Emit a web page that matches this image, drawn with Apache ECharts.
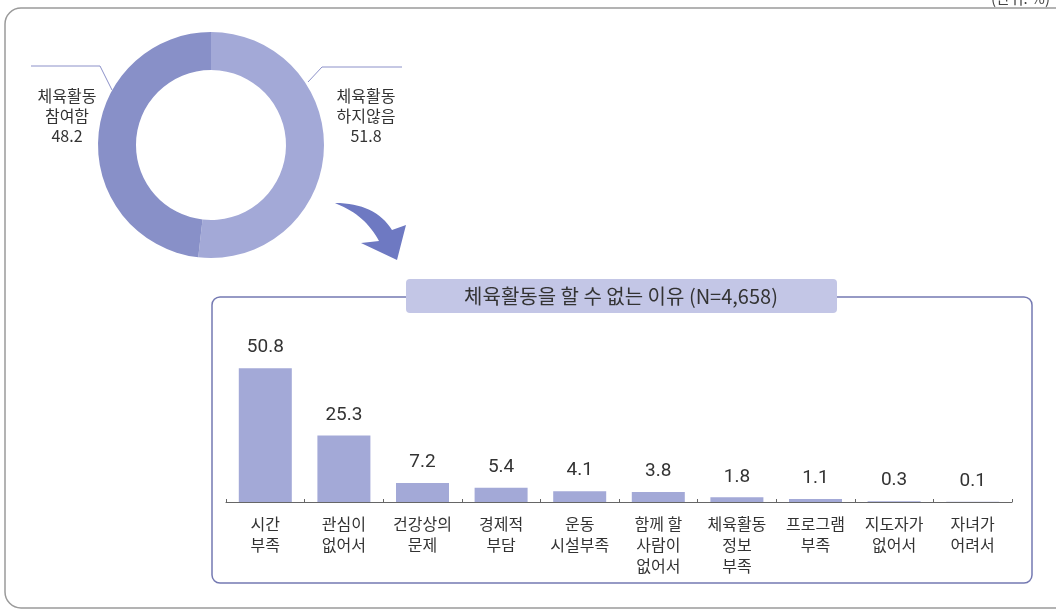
<!DOCTYPE html>
<html><head><meta charset="utf-8">
<script src="https://cdn.jsdelivr.net/npm/echarts@6/dist/echarts.min.js"></script>
<style>html,body{margin:0;padding:0;background:#fff}#c{width:1056px;height:610px}</style>
</head><body><div id="c"></div>
<script>
const pieNames = ['체육활동\n하지않음', '체육활동\n참여함'];
const pieValues = [51.8, 48.2];
const categories = ['시간\n부족', '관심이\n없어서', '건강상의\n문제', '경제적\n부담', '운동\n시설부족', '함께 할\n사람이\n없어서', '체육활동\n정보\n부족', '프로그램\n부족', '지도자가\n없어서', '자녀가\n어려서'];
const barValues = [50.8, 25.3, 7.2, 5.4, 4.1, 3.8, 1.8, 1.1, 0.3, 0.1];
const titleText = '체육활동을 할 수 없는 이유 (N=4,658)';
const unitText = '(단위: %)';

const KR = '"Noto Sans CJK KR", sans-serif';
const NUM = 'Roboto, "Noto Sans CJK KR", sans-serif';

function quad(p0, c, p1, n) {
  const pts = [];
  for (let i = 0; i <= n; i++) {
    const t = i / n;
    pts.push([(1 - t) * (1 - t) * p0[0] + 2 * (1 - t) * t * c[0] + t * t * p1[0],
              (1 - t) * (1 - t) * p0[1] + 2 * (1 - t) * t * c[1] + t * t * p1[1]]);
  }
  return pts;
}
const arrowPts = [].concat(
  quad([335, 203], [375, 203], [392, 230], 16),
  [[406, 225], [397, 260], [361, 243]],
  quad([379, 241], [365, 215], [337, 204], 16)
);

const chart = echarts.init(document.getElementById('c'), null, {renderer: 'canvas'});
chart.setOption({
  animation: false,
  backgroundColor: '#fff',
  graphic: [
    {type: 'rect', shape: {x: 5, y: 8, width: 1070, height: 600, r: 16}, style: {fill: 'none', stroke: '#9a9a9a', lineWidth: 1.5}, z: 0},
    {type: 'text', x: 1050, y: -9, style: {text: unitText, font: '15px ' + KR, fill: '#444', align: 'right'}},
    {type: 'rect', shape: {x: 212, y: 297, width: 820, height: 286, r: 8}, style: {fill: 'none', stroke: '#7479b2', lineWidth: 1.5}, z: 1},
    {type: 'rect', shape: {x: 406, y: 279, width: 431, height: 34, r: 4}, style: {fill: '#c3c6e6'}, z: 2},
    {type: 'text', x: 621, y: 296, style: {text: titleText, font: '20px ' + KR, fill: '#333', align: 'center', verticalAlign: 'middle'}, z: 3},
    {type: 'polygon', shape: {points: arrowPts}, style: {fill: '#6e79c2'}, z: 2}
  ],
  grid: {left: 226, right: 44, top: 344, bottom: 108, containLabel: false},
  xAxis: {
    type: 'category', data: categories,
    axisLine: {lineStyle: {color: '#666', width: 1}},
    axisTick: {show: true, inside: true, length: 3, lineStyle: {color: '#666'}},
    axisLabel: {interval: 0, color: '#333', fontFamily: KR, fontSize: 16, lineHeight: 21, margin: 11}
  },
  yAxis: {type: 'value', min: 0, max: 60, show: false, splitLine: {show: false}},
  series: [
    {
      type: 'pie', center: [211, 145], radius: [75, 113], startAngle: 90, clockwise: true,
      silent: true,
      data: pieNames.map((n, i) => ({name: n, value: pieValues[i], itemStyle: {color: i === 0 ? '#a3a9d7' : '#8890c8'}})),
      label: {show: true, formatter: '{b}\n{c}', color: '#333', fontFamily: KR, fontSize: 16, lineHeight: 20, align: 'center', overflow: 'none', width: 120},
      labelLine: {show: true, lineStyle: {color: '#8c91c9', width: 1}},
      labelLayout: function (p) {
        if (p.dataIndex === 0) {
          return {x: 366, y: 116, align: 'center', verticalAlign: 'middle', labelLinePoints: [[308, 82], [322, 67], [402, 67]]};
        }
        return {x: 67, y: 116, align: 'center', verticalAlign: 'middle', labelLinePoints: [[112, 90], [100, 66], [31, 66]]};
      }
    },
    {
      type: 'bar', data: barValues, barWidth: 53,
      itemStyle: {color: '#a3a9d7'},
      label: {show: true, position: 'top', distance: 11, color: '#333', fontFamily: NUM, fontSize: 19, formatter: p => p.value.toFixed(1)}
    }
  ]
});
</script></body></html>
